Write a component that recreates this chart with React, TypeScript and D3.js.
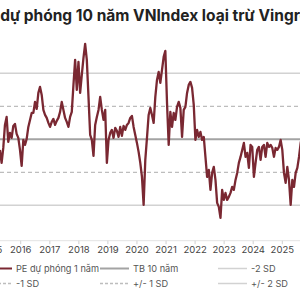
import React from "react";
import * as d3 from "d3";

const TITLE = "PE dự phóng 10 năm VNIndex loại trừ Vingroup";
const YEARS = [2015, 2016, 2017, 2018, 2019, 2020, 2021, 2022, 2023, 2024, 2025];
const START_DATE = "2015-04-15";
const STEP_DAYS = 21;
const MEAN_10Y = 13.0;
const SD_10Y = 1.65;
const PE_FWD = [
  12.47, 11.82, 12.57, 13.72, 14.12, 12.87, 13.32, 13.07, 13.67, 13.77,
  13.27, 13.07, 12.47, 11.67, 12.97, 12.72, 13.02, 13.62, 13.97, 14.32,
  14.32, 14.87, 14.52, 15.32, 15.62, 15.22, 14.47, 14.22, 14.07, 13.82,
  13.62, 13.87, 14.02, 13.72, 13.92, 14.07, 14.37, 14.87, 14.47, 14.07,
  13.87, 13.62, 14.12, 14.37, 15.72, 16.97, 15.47, 16.87, 15.32, 16.22,
  17.07, 17.77, 16.97, 15.12, 13.22, 12.97, 12.17, 13.72, 14.12, 14.47,
  15.12, 14.47, 13.97, 14.47, 11.82, 12.97, 13.32, 13.47, 13.07, 13.57,
  13.42, 13.12, 13.62, 13.17, 13.67, 13.47, 13.72, 13.82, 14.07, 14.17,
  13.62, 13.22, 12.82, 12.37, 11.82, 11.12, 9.72, 11.97, 13.07, 14.22,
  14.57, 14.22, 13.82, 15.12, 15.97, 16.37, 15.82, 16.47, 17.12, 17.42,
  14.82, 12.72, 14.37, 13.62, 14.32, 13.97, 14.62, 14.87, 14.57, 13.12,
  14.47, 14.62, 15.32, 15.72, 15.87, 15.57, 14.72, 12.97, 13.47, 13.12,
  13.37, 12.97, 13.12, 12.12, 11.12, 11.47, 10.47, 11.32, 11.62, 10.97,
  9.82, 9.62, 9.07, 10.47, 9.97, 10.32, 9.97, 10.12, 10.32, 10.62,
  10.47, 10.97, 11.32, 11.82, 12.12, 12.47, 12.82, 12.12, 12.32, 11.57,
  12.72, 12.62, 11.12, 11.82, 12.47, 12.62, 11.97, 12.62, 12.72, 12.12,
  12.82, 12.62, 12.72, 12.57, 12.12, 12.57, 12.47, 12.62, 12.97, 12.47,
  11.32, 10.82, 11.62, 10.97, 9.72, 10.97, 10.62, 11.32, 11.57, 12.12,
  12.82, 13.22,
];

const LEGEND_ROW1 = ["PE dự phóng 1 năm", "TB 10 năm", "-2 SD"];
const LEGEND_ROW2 = ["-1 SD", "+/- 1 SD", "+/- 2 SD"];

const FONT = "Inter, 'Noto Sans', sans-serif";
const MAROON = "#7a2832";
const MEAN_C = "#a3a3a3";
const SD1_C = "#bdbdbd";
const SD2_C = "#d2d2d2";

export default function App() {
  const W = 300, H = 300;
  const start = d3.isoParse(START_DATE + "T00:00:00Z") as Date;
  const data = PE_FWD.map((v, i) => ({ d: d3.utcDay.offset(start, i * STEP_DAYS), v }));

  const x = d3.scaleUtc()
    .domain([new Date(Date.UTC(2016, 0, 1)), new Date(Date.UTC(2025, 0, 1))])
    .range([20.7, 282.3]);
  const y = d3.scaleLinear()
    .domain([MEAN_10Y - 2 * SD_10Y, MEAN_10Y + 2 * SD_10Y])
    .range([205.3, 73.3]);

  const line = d3.line<{ d: Date; v: number }>().x(p => x(p.d)).y(p => y(p.v));

  const refs = [
    { v: MEAN_10Y + 2 * SD_10Y, c: SD2_C, w: 1.5, dash: undefined },
    { v: MEAN_10Y + SD_10Y, c: SD1_C, w: 1.3, dash: "4,3" },
    { v: MEAN_10Y, c: MEAN_C, w: 2, dash: undefined },
    { v: MEAN_10Y - SD_10Y, c: SD1_C, w: 1.3, dash: "4,3" },
    { v: MEAN_10Y - 2 * SD_10Y, c: SD2_C, w: 1.5, dash: undefined },
  ];

  const axisY = 240.7;
  const legendSymbols1 = [
    { c: MAROON, w: 2, dash: undefined },
    { c: MEAN_C, w: 2, dash: undefined },
    { c: SD2_C, w: 1.5, dash: undefined },
  ];
  const legendSymbols2 = [
    { c: SD1_C, w: 1.3, dash: "3,2" },
    { c: SD1_C, w: 1.3, dash: "3,2" },
    { c: SD2_C, w: 1.5, dash: undefined },
  ];
  const colX = [-17, 100, 218];
  const symLen = 29;

  return (
    <svg width={W} height={H} style={{ position: "absolute", left: 0, top: 0, background: "#fff" }}>
      <text x={-23} y={21} fontFamily={FONT} fontWeight={700} fontSize={15.5} fill="#222">{TITLE}</text>
      {refs.map((r, i) => (
        <line key={i} x1={0} x2={W} y1={y(r.v)} y2={y(r.v)} stroke={r.c} strokeWidth={r.w} strokeDasharray={r.dash} />
      ))}
      <line x1={0} x2={W} y1={axisY} y2={axisY} stroke="#e3e3e3" strokeWidth={1} />
      {YEARS.map(yr => {
        const xx = x(new Date(Date.UTC(yr, 0, 1)));
        return (
          <g key={yr}>
            <line x1={xx} x2={xx} y1={axisY} y2={axisY + 3.5} stroke="#d0d0d0" strokeWidth={1} />
            <text x={xx} y={253} textAnchor="middle" fontFamily={FONT} fontSize={9.5} fill="#444">{yr}</text>
          </g>
        );
      })}
      <path d={line(data) || ""} fill="none" stroke={MAROON} strokeWidth={2.3} strokeLinejoin="round" />
      {LEGEND_ROW1.map((t, i) => (
        <g key={"a" + i}>
          <line x1={colX[i]} x2={colX[i] + symLen} y1={268.5} y2={268.5} stroke={legendSymbols1[i].c} strokeWidth={legendSymbols1[i].w} strokeDasharray={legendSymbols1[i].dash} />
          <text x={colX[i] + symLen + 4} y={271.7} fontFamily={FONT} fontSize={9.2} fill="#555">{t}</text>
        </g>
      ))}
      {LEGEND_ROW2.map((t, i) => (
        <g key={"b" + i}>
          <line x1={colX[i]} x2={colX[i] + symLen} y1={283.5} y2={283.5} stroke={legendSymbols2[i].c} strokeWidth={legendSymbols2[i].w} strokeDasharray={legendSymbols2[i].dash} />
          <text x={colX[i] + symLen + 4} y={286.7} fontFamily={FONT} fontSize={9.2} fill="#555">{t}</text>
        </g>
      ))}
    </svg>
  );
}
